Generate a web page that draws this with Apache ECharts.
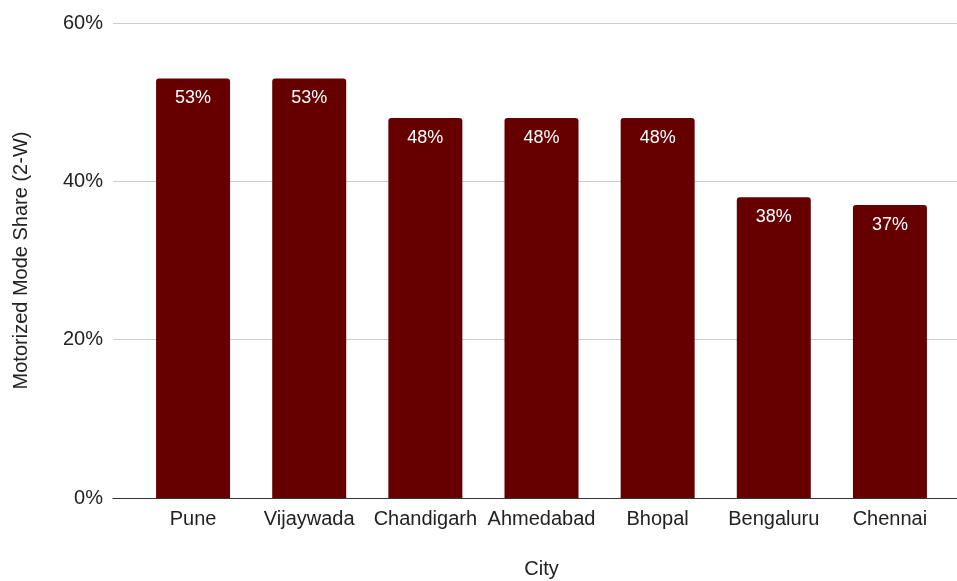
<!DOCTYPE html>
<html>
<head>
<meta charset="utf-8">
<script src="https://cdn.jsdelivr.net/npm/echarts@6/dist/echarts.min.js"></script>
<style>
  html, body { margin: 0; padding: 0; background: #fff; }
  #chart { width: 957px; height: 581px; }
</style>
</head>
<body>
<div id="chart"></div>
<script>
var cities = ['Pune', 'Vijaywada', 'Chandigarh', 'Ahmedabad', 'Bhopal', 'Bengaluru', 'Chennai'];
var share = [53, 53, 48, 48, 48, 38, 37];
var yTicks = [0, 20, 40, 60];

var myChart = echarts.init(document.getElementById('chart'));
var font = 'Liberation Sans, Arial, sans-serif';

var option = {
    animation: false,
    textStyle: { fontFamily: font },
    grid: [
        // bars
        { left: 135, right: 9, top: 23, bottom: 83, outerBoundsMode: 'none' },
        // gridlines + y labels, full width
        { left: 113, right: 0, top: 23, bottom: 83, outerBoundsMode: 'none' }
    ],
    xAxis: [
        {
            gridIndex: 0,
            type: 'category',
            data: cities,
            axisLine: { show: false },
            axisTick: { show: false },
            axisLabel: { interval: 0, color: '#222', fontSize: 20, margin: 11, fontFamily: font },
            name: 'City',
            nameLocation: 'middle',
            nameGap: 61,
            nameTextStyle: { color: '#222', fontSize: 20, fontFamily: font }
        },
        {
            gridIndex: 1,
            type: 'value',
            min: 0,
            max: 1,
            axisLine: { show: true, lineStyle: { color: '#333', width: 1 } },
            axisTick: { show: false },
            axisLabel: { show: false },
            splitLine: { show: false }
        }
    ],
    yAxis: [
        {
            gridIndex: 0,
            type: 'value',
            min: yTicks[0],
            max: yTicks[yTicks.length - 1],
            interval: 20,
            show: false,
            splitLine: { show: false }
        },
        {
            gridIndex: 1,
            type: 'value',
            min: yTicks[0],
            max: yTicks[yTicks.length - 1],
            interval: 20,
            axisLine: { show: false },
            axisTick: { show: false },
            axisLabel: { formatter: '{value}%', color: '#222', fontSize: 20, margin: 10, fontFamily: font },
            splitLine: { lineStyle: { color: '#cccccc', width: 1 } },
            name: 'Motorized Mode Share (2-W)',
            nameLocation: 'middle',
            nameGap: 82,
            nameTextStyle: { color: '#222', fontSize: 20, fontFamily: font }
        }
    ],
    series: [
        {
            type: 'bar',
            xAxisIndex: 0,
            yAxisIndex: 0,
            data: share,
            barWidth: 74,
            itemStyle: { color: '#660000', borderRadius: [3, 3, 0, 0] },
            label: {
                show: true,
                position: 'insideTop',
                distance: 11,
                formatter: '{c}%',
                color: '#fff',
                fontSize: 18,
                fontFamily: font
            }
        }
    ]
};

myChart.setOption(option);
</script>
</body>
</html>
